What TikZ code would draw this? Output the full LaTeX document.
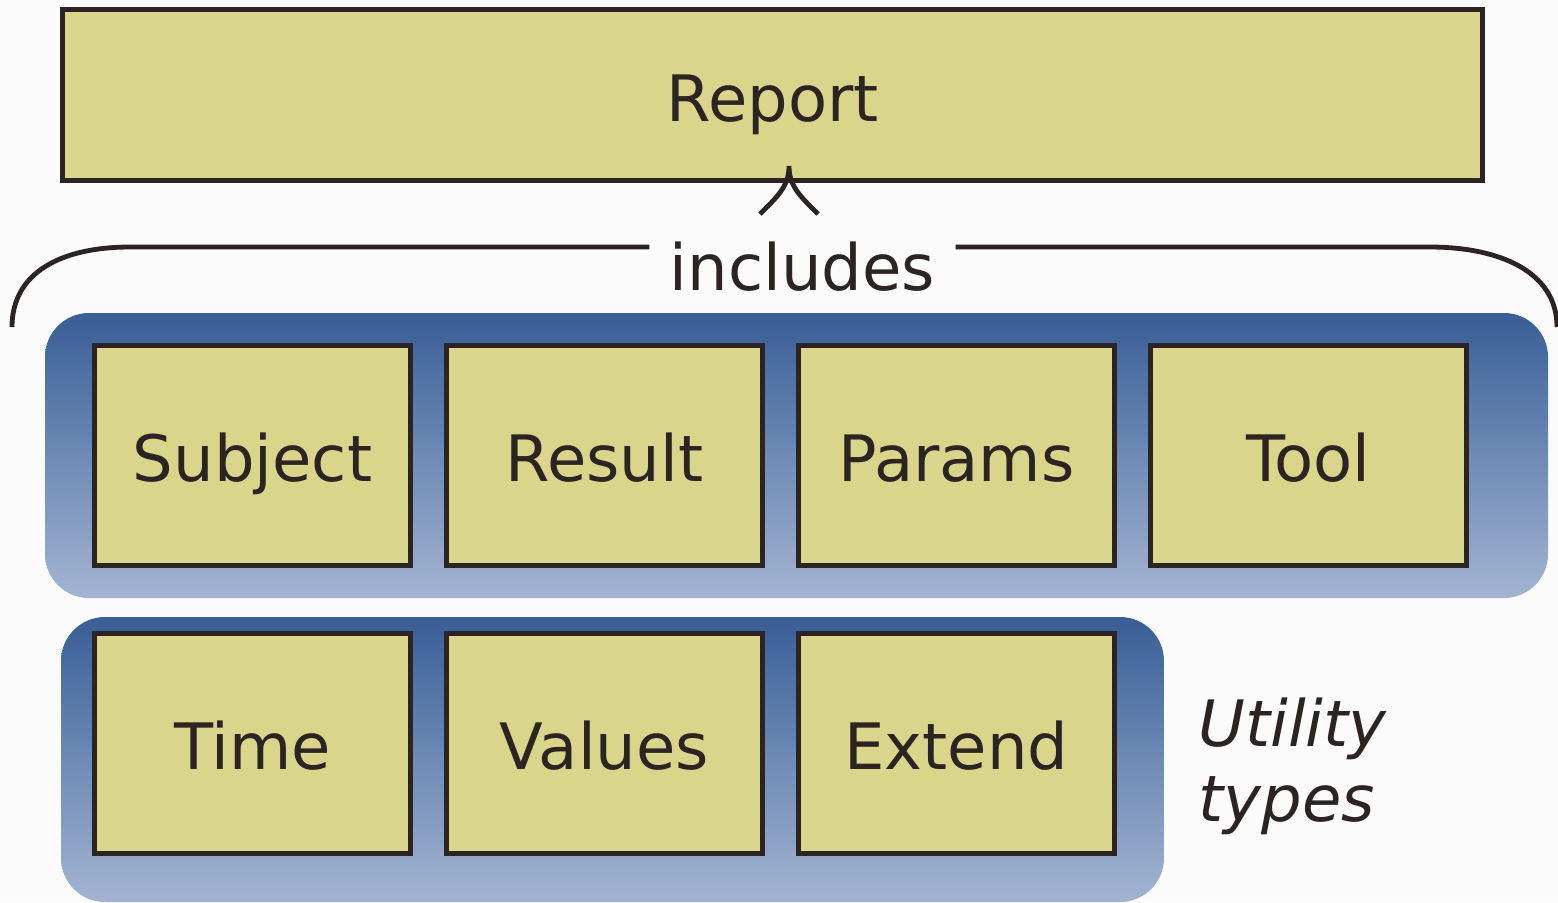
\documentclass[tikz,border=0pt]{standalone}
\usepackage{fontspec}
\setmainfont{DejaVu Sans}
\usepackage{tikz}
\usetikzlibrary{positioning}
\definecolor{reportkhaki}{RGB}{217,214,139}
\definecolor{outlinedark}{RGB}{43,36,34}
\definecolor{paneltop}{RGB}{56,94,150}
\definecolor{panelmid}{RGB}{110,138,181}
\definecolor{panelbottom}{RGB}{163,180,210}
\definecolor{pagegrey}{RGB}{251,251,251}

\begin{document}
\begin{tikzpicture}[
x=0.5pt, y=-0.5pt,
texts/.style = {text=outlinedark, font=\fontsize{32}{37.5}\selectfont},
boxline/.style = {draw=outlinedark, line width=2.5pt},
typebox/.style = {texts, boxline, fill=reportkhaki, minimum width=158pt, minimum height=110pt, inner sep=0pt, outer sep=0pt, text height=25.5pt, text depth=0pt},
panel/.style = {top color=paneltop, bottom color=panelbottom, middle color=panelmid, rounded corners=22pt},
brace/.style = {draw=outlinedark, line width=2.4pt}
]
\useasboundingbox (0,0) rectangle (1558,902);
\fill[pagegrey] (0,0) rectangle (1558,902);

% blue groups behind the boxes
\shade[panel] (45,313) rectangle (1548,598);
\shade[panel] (61,617) rectangle (1164,902);

\node[typebox, minimum width=710pt, minimum height=85.5pt, text height=26pt] (report) at (772.5,95) {Report};

\node[typebox] (subject) at (252.5,455.5) {Subject};
\node[typebox, right=18pt of subject] (result) {Result};
\node[typebox, right=18pt of result] (params) {Params};
\node[typebox, right=18pt of params] (tool) {Tool};

\node[typebox] (time) at (252.5,743.5) {Time};
\node[typebox, right=18pt of time] (values) {Values};
\node[typebox, right=18pt of values] (extend) {Extend};

\node[texts, font=\fontsize{32}{37.5}\selectfont\itshape, align=left, anchor=north west, inner sep=0pt] (utility) at (1198,697) {Utility\\types};

% brace with label
\node[texts, inner sep=10pt, anchor=base] (includes) at (802.5,290) {includes};
\coordinate (braceleft) at (130,247);
\coordinate (braceright) at (1430,247);
\draw[brace] (12,327) .. controls (12,272) and (62,247) .. (braceleft) -- (braceleft -| includes.west);
\draw[brace] (braceright -| includes.east) -- (braceright) .. controls (1500,247) and (1557,272) .. (1557,327);

\coordinate (tip) at (789,166);
\draw[brace] (760,214) .. controls (778,196) and (789,186) .. (tip) .. controls (789,186) and (800,196) .. (818,214);
\end{tikzpicture}
\end{document}
